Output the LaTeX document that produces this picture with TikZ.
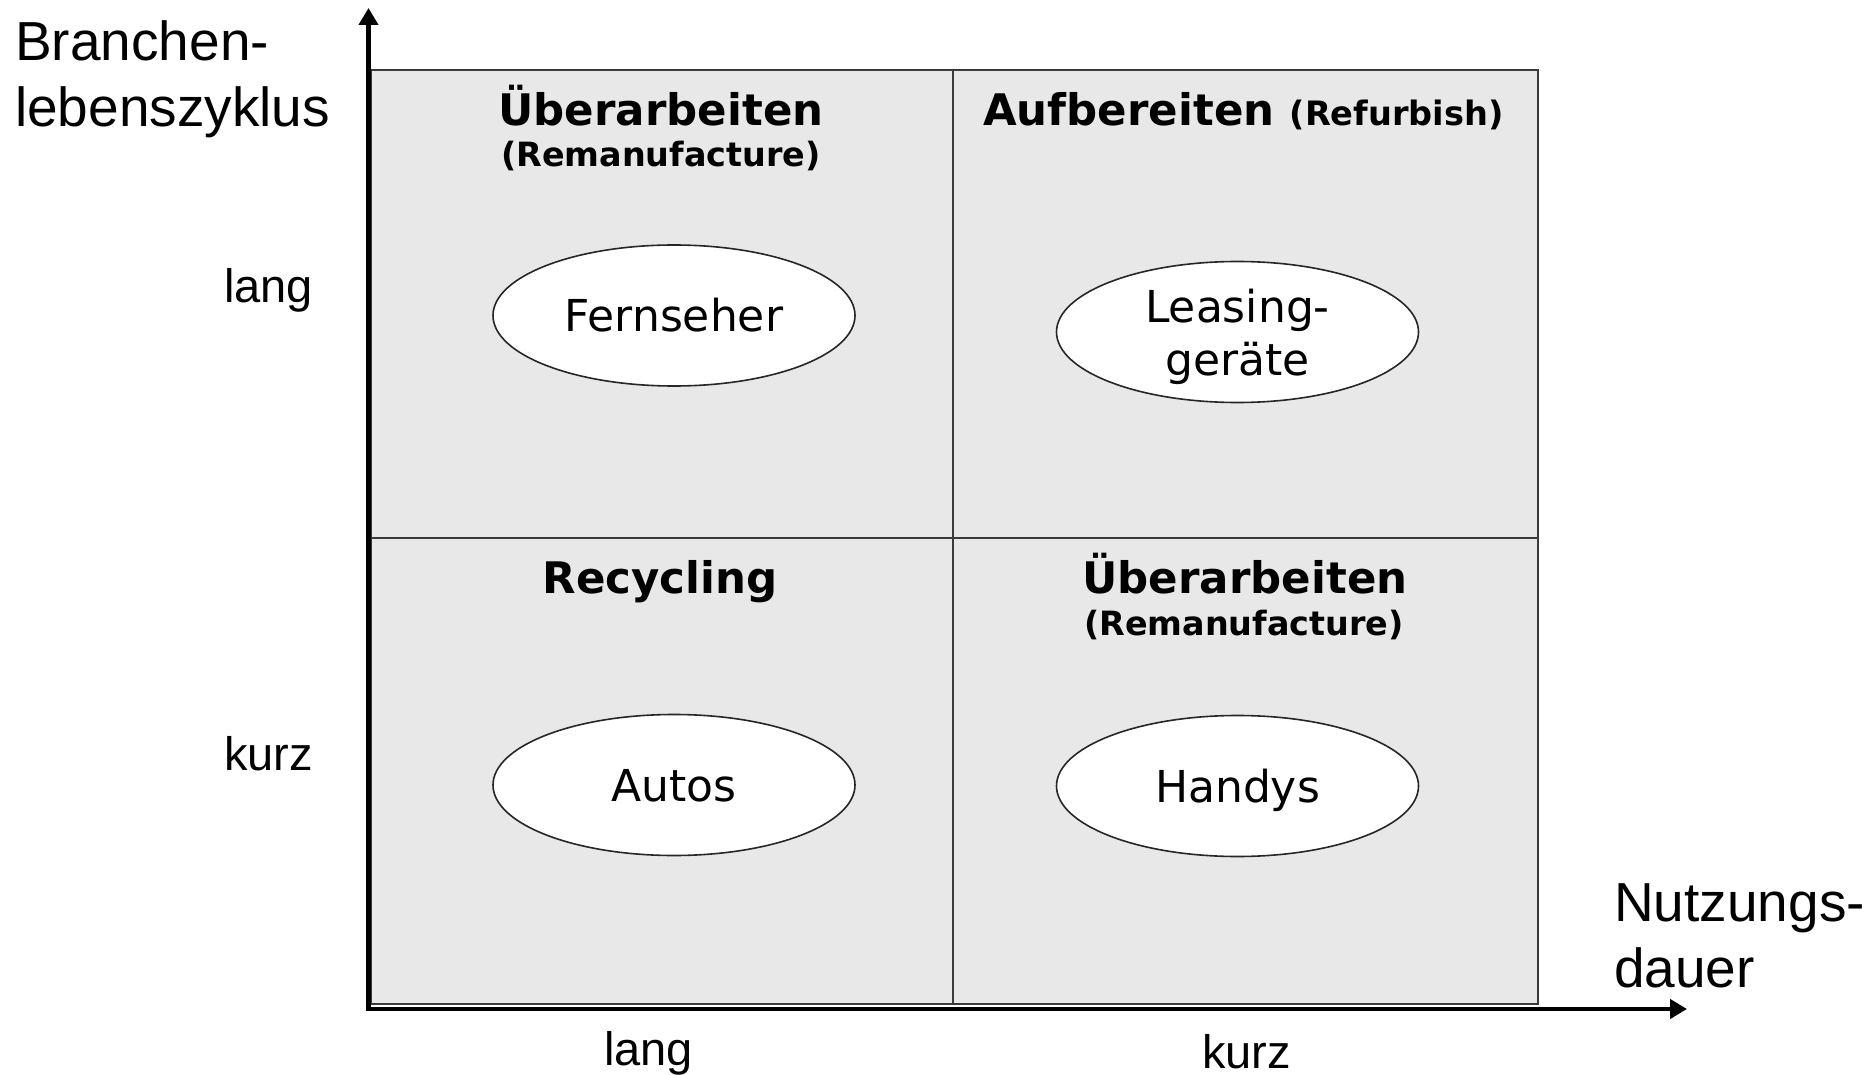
\documentclass[tikz,border=0pt]{standalone}
\usepackage{fontspec}
\newfontfamily\vfont{DejaVu Sans}
\newfontfamily\afont{Liberation Sans}
\usetikzlibrary{shapes.geometric,arrows.meta}
\definecolor{quadgray}{HTML}{E8E8E8}
\definecolor{gridgray}{HTML}{3A3A3A}
\tikzset{
  axisline/.style={line width=4.5pt, line join=miter,
    {Triangle[length=17pt,width=19pt]}-{Triangle[length=17pt,width=19pt]}},
  gridline/.style={draw=gridgray, line width=2pt},
  ell/.style={ellipse, draw=black!85, line width=1.6pt, fill=white,
    minimum width=362pt, minimum height=141pt, inner sep=0pt,
    font=\vfont\fontsize{44}{44}\selectfont, text height=32pt, text depth=0pt},
  etext/.style={font=\vfont\fontsize{44}{44}\selectfont, inner sep=0pt, anchor=base},
  btitle/.style={font=\vfont\bfseries\fontsize{43.5}{50}\selectfont, inner sep=0pt, anchor=base},
  bsub/.style={font=\vfont\bfseries\fontsize{33.4}{40}\selectfont, inner sep=0pt, anchor=base},
  axtitle/.style={font=\afont\fontsize{55}{66}\selectfont, inner sep=0pt, anchor=base west, align=left},
  ticklbl/.style={font=\afont\fontsize{47}{56}\selectfont, inner sep=0pt, anchor=base west}
}
\begin{document}
\begin{tikzpicture}[x=1pt,y=-1pt]
\useasboundingbox (0,0) rectangle (1872,1075);
% quadrants
\fill[quadgray] (371,70) rectangle (1538,1004);
\draw[gridline] (371,70) rectangle (1538,1004);
\draw[gridline] (953,70) -- (953,1004);
\draw[gridline] (371,538) -- (1538,538);
% axes
\coordinate (origin) at (368.5,1009);
\coordinate (ytip) at (368.5,8);
\coordinate (xtip) at (1687,1009);
\draw[axisline] (ytip) -- (origin) -- (xtip);
% axis titles (base = baseline of last line)
\node[axtitle] (ytitle) at (15,127) {Branchen-\\lebenszyklus};
\node[axtitle] (xtitle) at (1614,987) {Nutzungs-\\dauer};
\node[ticklbl] (ylang) at (224,303) {lang};
\node[ticklbl] (ykurz) at (224,770) {kurz};
\node[ticklbl] (xlang) at (604,1065) {lang};
\node[ticklbl] (xkurz) at (1202,1068) {kurz};
% quadrant titles
\node[btitle] (tltitle) at (661,126) {Überarbeiten};
\node[bsub] (tlsub) at (661,167) {(Remanufacture)};
\node[btitle, anchor=base west] (trtitle) at (983,126) {Aufbereiten {\fontsize{33.6}{40}\selectfont(Refurbish)}};
\node[btitle] (bltitle) at (660,593) {Recycling};
\node[btitle] (brtitle) at (1245,593) {Überarbeiten};
\node[bsub] (brsub) at (1244,635) {(Remanufacture)};
% ellipses
\node[ell] (fernseher) at (674,315.5) {Fernseher};
\node[ell] (leasing) at (1237.5,332) {};
\node[etext] (leasingA) at (1237.5,323) {Leasing-};
\node[etext] (leasingB) at (1237.5,375) {geräte};
\node[ell] (autos) at (674,785) {Autos};
\node[ell] (handys) at (1237.5,786) {Handys};
\end{tikzpicture}
\end{document}
